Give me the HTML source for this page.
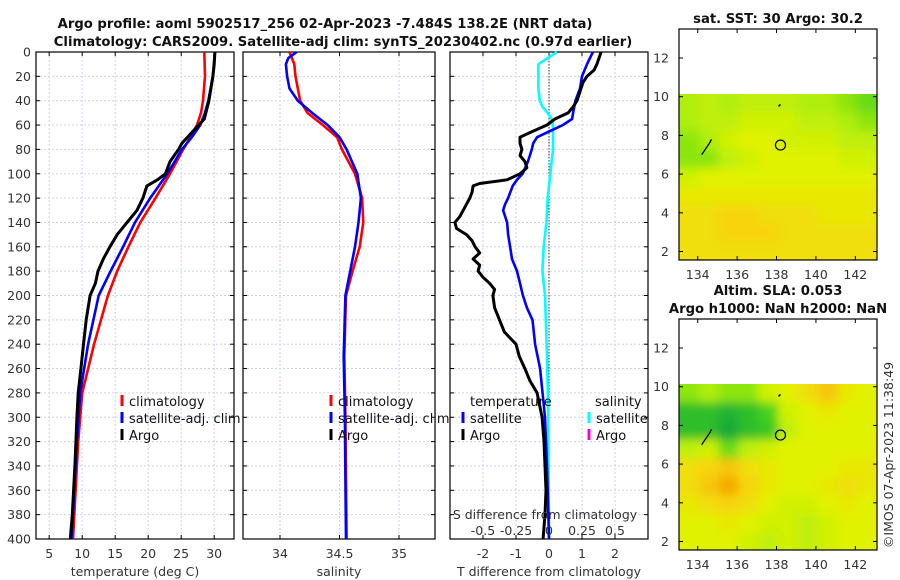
<!DOCTYPE html>
<html><head><meta charset="utf-8"><style>
body{margin:0;background:#fff;}
svg{display:block;font-family:"DejaVu Sans","Liberation Sans",sans-serif;}
.t{font-size:12.5px;fill:#333;}
.ttl{font-size:13.2px;font-weight:bold;fill:#111;}
.lg{font-size:13px;fill:#111;}
</style></head><body>
<svg id="fig" width="900" height="580" viewBox="0 0 900 580">
<defs>
<filter id="blur" x="-5%" y="-5%" width="110%" height="110%"><feGaussianBlur stdDeviation="5"/></filter>
<clipPath id="clip1"><rect x="679" y="94" width="198" height="166"/></clipPath>
<clipPath id="clip2"><rect x="679" y="384" width="198" height="166"/></clipPath>
</defs>
<text class="ttl" x="325" y="28" text-anchor="middle">Argo profile: aoml 5902517_256 02-Apr-2023 -7.484S 138.2E (NRT data)</text>
<text class="ttl" x="343" y="46" text-anchor="middle">Climatology: CARS2009. Satellite-adj clim: synTS_20230402.nc (0.97d earlier)</text>
<g id="g1"></g><g id="g2"></g><g id="g3"></g><g id="m1"></g><g id="m2"></g>
<text class="t" transform="translate(893,455) rotate(-90)" text-anchor="middle">©IMOS 07-Apr-2023 11:38:49</text>
</svg>
<script>
// ---------- data ----------
const depthTicks=[0,20,40,60,80,100,120,140,160,180,200,220,240,260,280,300,320,340,360,380,400];
const tDepth=[0,20,40,50,60,70,80,100,120,140,160,180,200,240,280,320,360,400];
const tClim=[28.5,28.6,28.3,28.0,27.4,26.4,25.3,23.3,21.1,18.8,17.0,15.3,13.9,11.8,10.0,9.4,9.0,8.6];
const tSat=[30.1,29.8,29.1,28.6,27.9,26.6,25.1,22.9,20.3,18.0,16.2,14.3,12.5,10.9,9.7,9.2,8.8,8.4];
const argoDepth=[0,10,20,40,55,65,75,80,90,100,105,110,120,130,140,150,160,170,180,190,200,220,240,260,280,300,340,380,400];
const tArgo=[30.1,30.0,29.8,29.2,28.5,26.8,25.1,24.6,23.3,22.6,21.4,19.8,19.2,18.3,16.8,15.3,14.2,13.2,12.4,12.0,11.2,10.6,10.2,9.8,9.4,9.2,8.9,8.5,8.2];
const sDepth=[0,5,10,20,30,40,50,60,70,80,100,120,140,160,180,200,250,300,350,400];
const sClim=[34.08,34.10,34.12,34.13,34.15,34.17,34.23,34.36,34.48,34.52,34.63,34.69,34.70,34.67,34.61,34.555,34.54,34.55,34.555,34.56];
const sSat=[34.14,34.07,34.05,34.06,34.08,34.15,34.27,34.40,34.50,34.56,34.65,34.68,34.66,34.63,34.59,34.55,34.535,34.545,34.55,34.555];
const dArgoDepth=[0,10,15,20,25,30,40,45,50,55,60,65,70,75,80,85,90,95,100,105,108,110,115,120,125,130,135,140,145,150,155,160,165,170,175,180,185,190,195,200,210,220,230,240,250,260,270,280,300,320,340,360,380,400];
const dTArgo=[1.58,1.45,1.36,1.15,1.03,0.97,0.85,0.73,0.58,0.18,-0.06,-0.48,-0.88,-0.88,-0.82,-0.88,-0.73,-0.67,-0.88,-1.27,-2.1,-2.3,-2.33,-2.4,-2.5,-2.6,-2.7,-2.85,-2.8,-2.5,-2.33,-2.24,-2.1,-2.3,-2.1,-2.15,-2.0,-1.8,-1.65,-1.7,-1.65,-1.5,-1.35,-1.0,-0.9,-0.73,-0.58,-0.36,-0.21,-0.15,-0.12,-0.09,-0.12,-0.18];
const dSatDepth=[0,10,20,30,40,50,55,60,65,70,75,80,90,100,105,110,120,125,130,140,150,160,170,180,190,200,210,220,240,260,300,340,400];
const dTSat=[1.33,1.15,1.0,0.94,0.8,0.73,0.7,0.42,0.03,-0.36,-0.48,-0.52,-0.64,-0.8,-0.97,-1.1,-1.24,-1.33,-1.39,-1.27,-1.24,-1.18,-1.12,-0.97,-0.88,-0.79,-0.67,-0.5,-0.42,-0.27,-0.12,-0.06,0];
const dSDepth=[0,5,10,20,30,40,45,50,55,60,70,80,100,120,140,160,180,200,250,300,400];
const dSSat=[0.06,-0.01,-0.08,-0.08,-0.08,-0.07,-0.05,-0.01,0.02,0.03,0.03,0.03,0.01,-0.01,-0.02,-0.04,-0.05,-0.03,-0.015,-0.005,0];
const tTicks=[5,10,15,20,25,30];
const sTicks=[34,34.5,35];
const dTTicks=[-2,-1,0,1,2];
const dSTicks=[-0.5,-0.25,0,0.25,0.5];
const dSTickLabels=["-0.5","-0.25","0","0.25","0.5"];
const lonTicks=[134,136,138,140,142];
const latTicks=[2,4,6,8,10,12];
const sstGrid=[
[0.35,0.4,0.35,0.4,0.4,0.4,0.35,0.35,0.3,0.25],
[0.35,0.4,0.4,0.45,0.45,0.45,0.4,0.4,0.35,0.3],
[0.3,0.35,0.45,0.5,0.5,0.45,0.45,0.45,0.4,0.4],
[0.3,0.3,0.4,0.45,0.5,0.5,0.5,0.5,0.45,0.45],
[0.45,0.5,0.5,0.5,0.5,0.5,0.5,0.5,0.5,0.5],
[0.55,0.55,0.55,0.55,0.55,0.55,0.55,0.55,0.55,0.55],
[0.6,0.6,0.65,0.65,0.6,0.6,0.6,0.55,0.55,0.55],
[0.6,0.6,0.65,0.65,0.65,0.6,0.6,0.6,0.6,0.6],
[0.6,0.6,0.6,0.6,0.6,0.6,0.6,0.6,0.6,0.6]];
const slaGrid=[
[0.3,0.35,0.3,0.3,0.45,0.5,0.6,0.7,0.55,0.5],
[0.1,0.1,0.05,0.1,0.2,0.45,0.5,0.55,0.5,0.5],
[0.1,0.1,0.0,0.1,0.15,0.4,0.5,0.5,0.5,0.5],
[0.4,0.45,0.25,0.4,0.45,0.5,0.5,0.5,0.5,0.5],
[0.6,0.65,0.7,0.6,0.55,0.5,0.5,0.5,0.55,0.55],
[0.6,0.7,0.8,0.65,0.55,0.5,0.5,0.55,0.6,0.55],
[0.55,0.6,0.65,0.6,0.5,0.45,0.45,0.5,0.55,0.5],
[0.5,0.5,0.55,0.5,0.45,0.45,0.4,0.45,0.5,0.5],
[0.5,0.5,0.5,0.45,0.4,0.45,0.4,0.45,0.5,0.5]];
const argoPos=[138.2,7.5];

// ---------- helpers ----------
const NS="http://www.w3.org/2000/svg";
function mk(p,tag,a){const e=document.createElementNS(NS,tag);for(const k in a)e.setAttribute(k,a[k]);p.appendChild(e);return e;}
function txt(p,x,y,s,anchor,cls){const e=mk(p,'text',{x:x,y:y,'text-anchor':anchor||'middle','class':cls||'t'});e.textContent=s;return e;}
const Y0=52,Y1=539;
function yD(d){return Y0+(d/400)*(Y1-Y0);}
function lin(d0,d1,r0,r1){return v=>r0+(v-d0)/(d1-d0)*(r1-r0);}

function panel(g,x0,x1,xs,ticks,labels,showY){
  for(const d of depthTicks){const y=yD(d);
    const gl=mk(g,'line',{x1:x0,x2:x1,y1:y,y2:y,stroke:'#c9d2ea','stroke-width':1,'stroke-dasharray':'2,2'});
    
    mk(g,'line',{x1:x0,x2:x0+4,y1:y,y2:y,stroke:'#000'});mk(g,'line',{x1:x1-4,x2:x1,y1:y,y2:y,stroke:'#000'});
    if(showY){const l=txt(g,x0-5,y+4.5,String(d),'end');}
  }
  ticks.forEach((v,i)=>{const x=xs(v);
    const gl=mk(g,'line',{x1:x,x2:x,y1:Y0,y2:Y1,stroke:'#c9d2ea','stroke-width':1,'stroke-dasharray':'2,2'});
    
    mk(g,'line',{x1:x,x2:x,y1:Y1,y2:Y1-4,stroke:'#000'});mk(g,'line',{x1:x,x2:x,y1:Y0,y2:Y0+4,stroke:'#000'});
    const l=txt(g,x,558,labels[i]);
  });
  const fr=mk(g,'rect',{x:x0,y:Y0,width:x1-x0,height:Y1-Y0,fill:'none',stroke:'#000','stroke-width':1.2});
  
}
function curve(g,xs,vals,deps,col,w,name){
  const pts=vals.map((v,i)=>xs(v).toFixed(1)+','+yD(deps[i]).toFixed(1)).join(' ');
  const e=mk(g,'polyline',{points:pts,fill:'none',stroke:col,'stroke-width':w,'stroke-linejoin':'round'});
  
}
function legend(g,x,y,col,label,name){
  mk(g,'rect',{x:x-1.5,y:y-11,width:3,height:11,fill:col});
  const t=txt(g,x+7,y,label,'start','lg');
  
}

// ---------- panel 1: temperature ----------
const g1=document.getElementById('g1');

const xT=lin(3,33,36,234);
panel(g1,36,234,xT,tTicks,tTicks.map(String),true);
curve(g1,xT,tClim,tDepth,'#f00',2.6,'climatology-temp-line');
curve(g1,xT,tSat,tDepth,'#00f',2.6,'satellite-temp-line');
curve(g1,xT,tArgo,argoDepth,'#000',3,'argo-temp-line');
legend(g1,122,406,'#f00','climatology','legend-climatology');
legend(g1,122,423,'#00f','satellite-adj. clim','legend-satellite');
legend(g1,122,440,'#000','Argo','legend-argo');
const xl1=txt(g1,135,576,'temperature (deg C)');

// ---------- panel 2: salinity ----------
const g2=document.getElementById('g2');

const xS=lin(34,35,280,399);
panel(g2,243,435,xS,sTicks,['34','34.5','35'],false);
curve(g2,xS,sClim,sDepth,'#f00',2.6,'climatology-salinity-line');
curve(g2,xS,sSat,sDepth,'#00f',2.6,'satellite-salinity-line');
legend(g2,331,406,'#f00','climatology','legend-climatology-s');
legend(g2,331,423,'#00f','satellite-adj. clim','legend-satellite-s');
legend(g2,331,440,'#000','Argo','legend-argo-s');
const xl2=txt(g2,339,576,'salinity');

// ---------- panel 3: differences ----------
const g3=document.getElementById('g3');

const xDT=lin(-3,3,450,648);
const xDS=v=>xDT(v*4);
panel(g3,450,648,xDT,dTTicks,dTTicks.map(String),false);
const zl=mk(g3,'line',{x1:xDT(0),x2:xDT(0),y1:Y0,y2:Y1,stroke:'#334','stroke-width':1,'stroke-dasharray':'1.5,1.5'});

curve(g3,xDS,dSSat,dSDepth,'#0ff',2.6,'satellite-salinity-diff-line');
curve(g3,xDT,dTSat,dSatDepth,'#00f',2.6,'satellite-temp-diff-line');
curve(g3,xDT,dTArgo,dArgoDepth,'#000',3,'argo-temp-diff-line');
let lt=txt(g3,470,406,'temperature','start','lg');
lt=txt(g3,595,406,'salinity','start','lg');
legend(g3,463,423,'#00f','satellite','legend-temp-satellite');
legend(g3,463,440,'#000','Argo','legend-temp-argo');
legend(g3,589,423,'#0ff','satellite','legend-sal-satellite');
legend(g3,589,440,'#f0c','Argo','legend-sal-argo');
lt=txt(g3,545,519,'S difference from climatology');
dSTicks.forEach((v,i)=>{const l=txt(g3,xDS(v),535,dSTickLabels[i]);});
lt=txt(g3,549,576,'T difference from climatology');

// ---------- maps ----------
const stops=[[0,[20,170,55]],[0.2,[70,210,30]],[0.35,[175,238,10]],[0.5,[225,242,0]],[0.65,[247,212,10]],[0.8,[245,170,0]],[1,[240,130,0]]];
function cmap(v){for(let i=1;i<stops.length;i++){if(v<=stops[i][0]){const a=stops[i-1],b=stops[i];const f=(v-a[0])/(b[0]-a[0]);
  return 'rgb('+a[1].map((c,k)=>Math.round(c+(b[1][k]-c)*f)).join(',')+')';}}return 'rgb(240,130,0)';}
function map(g,top,grid,titles,name,clipId){
  
  const L=679,R=877,B=top+231;
  const xm=lin(133.05,143.1,L,R);
  const ym=lat=>(top+29)+(12-lat)*19.35;
  const latTop=10.15,latBot=1.5,rows=grid.length,cols=grid[0].length;
  const lonA=133.05,lonB=143.1;
  const clipG=mk(g,'g',{'clip-path':'url(#'+clipId+')'});
  const cellsG=mk(clipG,'g',{filter:'url(#blur)'});
  grid.forEach((row,r)=>row.forEach((v,c)=>{
    const la0=latTop-(latTop-latBot)*r/rows,la1=latTop-(latTop-latBot)*(r+1)/rows;
    const lo0=lonA+(lonB-lonA)*c/cols,lo1=lonA+(lonB-lonA)*(c+1)/cols;
    // extend edge cells outward so blur doesn't fade at borders
    let x0=xm(lo0),x1=xm(lo1),y0=ym(la0),y1=ym(la1);
    if(c===0)x0-=15; if(c===cols-1)x1+=15; if(r===0)y0-=15; if(r===rows-1)y1+=15;
    const cell=mk(cellsG,'rect',{x:x0,y:y0,width:x1-x0+0.6,height:y1-y0+0.6,fill:cmap(v)});
    
  }));
  mk(g,'polyline',{points:[[134.2,7.0],[134.4,7.3],[134.6,7.6],[134.7,7.8]].map(p=>xm(p[0])+','+ym(p[1])).join(' '),fill:'none',stroke:'#000','stroke-width':1.3});
  mk(g,'polyline',{points:[[138.1,9.5],[138.2,9.6]].map(p=>xm(p[0])+','+ym(p[1])).join(' '),fill:'none',stroke:'#000','stroke-width':1.5});
  const c=mk(g,'circle',{cx:xm(argoPos[0]),cy:ym(argoPos[1]),r:5,fill:'none',stroke:'#000','stroke-width':1.2});
  
  const fr=mk(g,'rect',{x:L,y:top,width:R-L,height:B-top,fill:'none',stroke:'#000','stroke-width':1.2});
  
  lonTicks.forEach(v=>{const x=xm(v);mk(g,'line',{x1:x,x2:x,y1:B,y2:B-4,stroke:'#000'});mk(g,'line',{x1:x,x2:x,y1:top,y2:top+4,stroke:'#000'});
    const l=txt(g,x,B+19,String(v));});
  latTicks.forEach(v=>{const y=ym(v);mk(g,'line',{x1:L,x2:L+4,y1:y,y2:y,stroke:'#000'});mk(g,'line',{x1:R-4,x2:R,y1:y,y2:y,stroke:'#000'});
    const l=txt(g,L-10,y+4.5,String(v),'end');});
  titles.forEach((s,i)=>{const t=txt(g,778,top-(titles.length-1-i)*18-6,s,'middle','ttl');});
}
map(document.getElementById('m1'),29,sstGrid,['sat. SST: 30 Argo: 30.2'],'sst-map','clip1');
map(document.getElementById('m2'),319,slaGrid,['Altim. SLA: 0.053','Argo h1000: NaN h2000: NaN'],'sla-map','clip2');
</script>
</body></html>
